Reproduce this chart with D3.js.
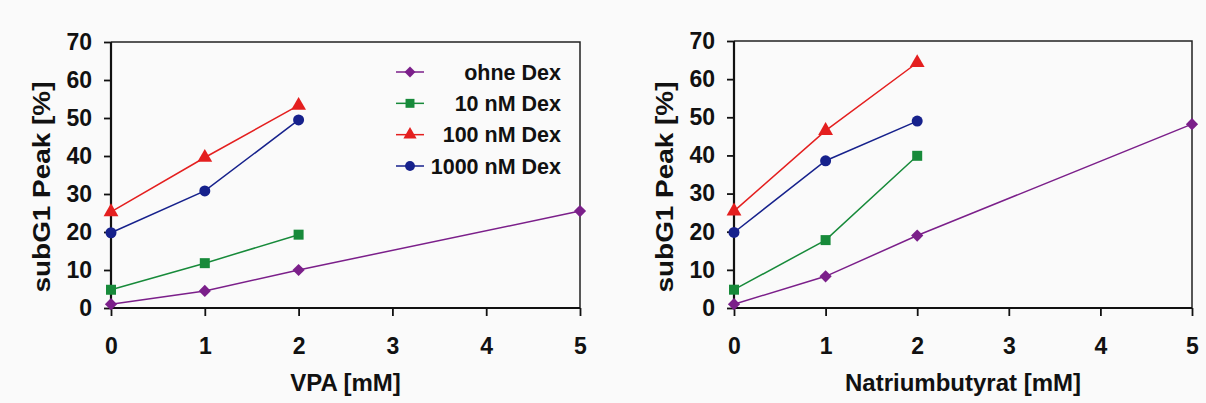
<!DOCTYPE html>
<html>
<head>
<meta charset="utf-8">
<script src="https://cdn.jsdelivr.net/npm/d3@7"></script>
<style>
  body { margin: 0; background: #fafafa; }
  svg { display: block; font-family: "Liberation Sans", Arial, sans-serif; font-weight: bold; }
</style>
</head>
<body>
<svg id="chart" width="1206" height="403"></svg>
<script>
const doses = [0, 1, 2, 5];
const seriesNames = ["ohne Dex", "10 nM Dex", "100 nM Dex", "1000 nM Dex"];
const xTicks = [0, 1, 2, 3, 4, 5];
const yTicks = [0, 10, 20, 30, 40, 50, 60, 70];

const vpaOhne = [1, 4.5, 10, 25.5];
const vpa10 = [4.8, 11.8, 19.3, null];
const vpa100 = [25.3, 39.6, 53.3, null];
const vpa1000 = [19.8, 30.8, 49.5, null];

// Natriumbutyrat panel
const nbOhne = [1, 8.3, 19, 48.2];
const nb10 = [4.8, 17.8, 39.9, null];
const nb100 = [25.4, 46.5, 64.3, null];
const nb1000 = [19.8, 38.6, 49, null];

const colors = ["#7b1f8a", "#178a3a", "#e41f1f", "#16218c"];
const symbols = [d3.symbolDiamond2, d3.symbolSquare, d3.symbolTriangle, d3.symbolCircle];
const symSizes = [95, 100, 95, 95];

const svg = d3.select("#chart");

function panel(opts) {
    let x = d3.scaleLinear().domain([0, 5]).range([opts.left, opts.right]);
    let y = d3.scaleLinear().domain([0, 70]).range([308, opts.top]);
    let g = svg.append("g");

    // frame top / right
    g.append("path")
        .attr("d", `M${opts.left},${opts.top}H${opts.right}V308`)
        .attr("fill", "none").attr("stroke", "#222").attr("stroke-width", 1.5);

    let yAxis = g.append("g")
        .attr("transform", `translate(${opts.left},0)`)
        .call(d3.axisLeft(y).tickValues(yTicks).tickFormat(d3.format("d")).tickSize(7).tickPadding(12));
    let xAxis = g.append("g")
        .attr("transform", "translate(0,308)")
        .call(d3.axisBottom(x).tickValues(xTicks).tickFormat(d3.format("d")).tickSize(8).tickPadding(13));
    [xAxis, yAxis].forEach(a => {
        a.select(".domain").attr("stroke", "#111").attr("stroke-width", 2.2);
        a.selectAll(".tick line").attr("stroke", "#111").attr("stroke-width", 1.8);
        a.selectAll(".tick text").attr("fill", "#111")
            .style("font-size", "23px").style("font-family", "Liberation Sans, Arial, sans-serif").style("font-weight", "bold");
    });
    xAxis.selectAll(".tick text").attr("dy", "1.08em");
    // keep the axis lines clean of the default domain end ticks
    xAxis.select(".domain").attr("d", `M${opts.left},0H${opts.right}`);
    yAxis.select(".domain").attr("d", `M0,308V${opts.top}`);

    opts.series.forEach((vals, i) => {
        let pts = doses.map((d, j) => ({ x: d, y: vals[j] })).filter(p => p.y != null);
        g.append("path")
            .datum(pts)
            .attr("fill", "none")
            .attr("stroke", colors[i])
            .attr("stroke-width", 1.5)
            .attr("d", d3.line().x(p => x(p.x)).y(p => y(p.y)));
        g.selectAll(null)
            .data(pts)
            .enter().append("path")
            .attr("transform", p => `translate(${x(p.x)},${y(p.y)})`)
            .attr("d", d3.symbol().type(symbols[i]).size(symSizes[i]))
            .attr("fill", colors[i]);
    });

    g.append("text")
        .attr("x", (opts.left + opts.right) / 2)
        .attr("y", 391)
        .attr("text-anchor", "middle")
        .style("font-size", "24px")
        .attr("fill", "#111")
        .text(opts.xTitle);

    g.append("text")
        .attr("transform", `translate(${opts.yTitleX},187) rotate(-90)`)
        .attr("text-anchor", "middle")
        .attr("textLength", 211)
        .attr("lengthAdjust", "spacingAndGlyphs")
        .style("font-size", "23px")
        .attr("fill", "#111")
        .text("subG1 Peak [%]");
}

panel({ left: 111, right: 580, top: 42, xTitle: "VPA [mM]", yTitleX: 50,
        series: [vpaOhne, vpa10, vpa100, vpa1000] });
panel({ left: 734, right: 1192, top: 41, xTitle: "Natriumbutyrat [mM]", yTitleX: 673,
        series: [nbOhne, nb10, nb100, nb1000] });

// legend (left panel)
const legend = svg.append("g");
const rowY = d3.scalePoint().domain(seriesNames).range([72, 166]);
seriesNames.forEach((name, i) => {
    let cy = rowY(name);
    legend.append("line")
        .attr("x1", 396).attr("x2", 424).attr("y1", cy).attr("y2", cy)
        .attr("stroke", colors[i]).attr("stroke-width", 1.5);
    legend.append("path")
        .attr("transform", `translate(410,${cy})`)
        .attr("d", d3.symbol().type(symbols[i]).size(symSizes[i] * 0.8))
        .attr("fill", colors[i]);
    legend.append("text")
        .attr("x", 561).attr("y", cy + 7.5)
        .attr("text-anchor", "end")
        .style("font-size", "21.5px")
        .attr("fill", "#111")
        .text(name);
});
</script>
</body>
</html>
